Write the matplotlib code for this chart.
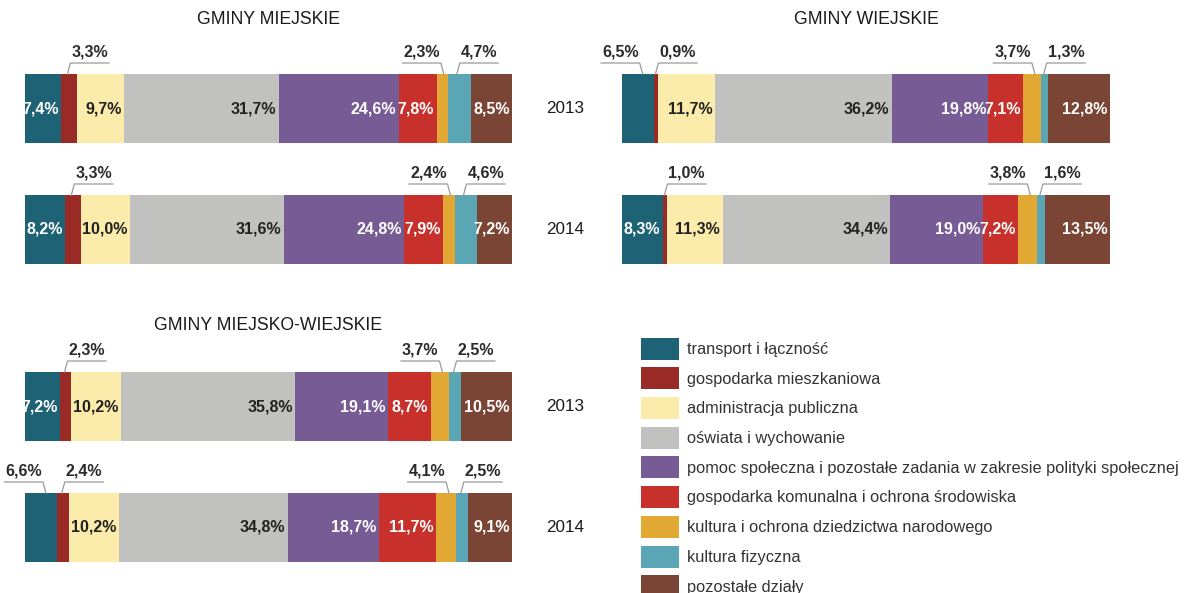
import matplotlib
matplotlib.use("Agg")
import matplotlib.pyplot as plt
import numpy as np

plt.rcParams['font.family'] = ['Liberation Sans', 'DejaVu Sans']

categories = [
    "transport i łączność",
    "gospodarka mieszkaniowa",
    "administracja publiczna",
    "oświata i wychowanie",
    "pomoc społeczna i pozostałe zadania w zakresie polityki społecznej",
    "gospodarka komunalna i ochrona środowiska",
    "kultura i ochrona dziedzictwa narodowego",
    "kultura fizyczna",
    "pozostałe działy",
]
colors = ["#1e6375", "#9a2a26", "#fcecab", "#c1c1c0", "#775b95",
          "#c8302c", "#e2a834", "#5ba6b4", "#7b4535"]
years = ["2013", "2014"]

titles = ["GMINY MIEJSKIE", "GMINY WIEJSKIE", "GMINY MIEJSKO-WIEJSKIE"]

miejskie_2013 = [7.4, 3.3, 9.7, 31.7, 24.6, 7.8, 2.3, 4.7, 8.5]
miejskie_2014 = [8.2, 3.3, 10.0, 31.6, 24.8, 7.9, 2.4, 4.6, 7.2]
wiejskie_2013 = [6.5, 0.9, 11.7, 36.2, 19.8, 7.1, 3.7, 1.3, 12.8]
wiejskie_2014 = [8.3, 1.0, 11.3, 34.4, 19.0, 7.2, 3.8, 1.6, 13.5]
mw_2013 = [7.2, 2.3, 10.2, 35.8, 19.1, 8.7, 3.7, 2.5, 10.5]
mw_2014 = [6.6, 2.4, 10.2, 34.8, 18.7, 11.7, 4.1, 2.5, 9.1]

panel_data = [
    [miejskie_2013, miejskie_2014],
    [wiejskie_2013, wiejskie_2014],
    [mw_2013, mw_2014],
]

# segments labelled outside with a leader line: index -> side (-1 left, +1 right)
outside = [
    [{1: 1, 6: -1, 7: 1}, {1: 1, 6: -1, 7: 1}],
    [{0: -1, 1: 1, 6: -1, 7: 1}, {1: 1, 6: -1, 7: 1}],
    [{1: 1, 6: -1, 7: 1}, {0: -1, 1: 1, 6: -1, 7: 1}],
]
show_years = [True, False, True]

W, H = 1187, 593
fig = plt.figure(figsize=(W / 100, H / 100), dpi=100)

SP = 121.0  # px between bar centres
# (left px, width px, top px, bottom px, centre of first bar px, title px)
layout = [
    (25, 487, 0, 295, 108.5, 20),
    (622, 488, 0, 295, 108.5, 20),
    (25, 487, 297, 593, 406.5, 325),
]
light_idx = {2, 3}

def fmt(v):
    return f"{v:.1f}".replace(".", ",") + "%"

handles = None
for p, (lx, wx, tp, bp, c0, ty) in enumerate(layout):
    ax = fig.add_axes([lx / W, 1 - bp / H, wx / W, (bp - tp) / H])
    ax.set_xlim(0, 100)
    ax.set_ylim((bp - c0) / SP, (tp - c0) / SP)
    ax.axis("off")
    ypos = np.arange(len(years))
    data = np.array(panel_data[p])
    left = np.zeros(len(years))
    hs = []
    for k in range(len(categories)):
        b = ax.barh(ypos, data[:, k], left=left, height=0.57, color=colors[k],
                    label=categories[k], linewidth=0)
        hs.append(b)
        for j in range(len(years)):
            v = data[j, k]
            x0 = left[j]
            if k in outside[p][j]:
                s = outside[p][j][k]
                bx = x0 + v * (0.65 if s < 0 else 0.4)
                yb = ypos[j] - 0.285
                yu = ypos[j] - 0.376
                yt = ypos[j] - 0.467
                jx = bx + s * 0.6
                ex = jx + s * 7.9
                ax.plot([bx, jx, ex], [yb, yu, yu], color="#9a9a9a", lw=0.9,
                        clip_on=False, solid_joinstyle="miter")
                ax.text((jx + ex) / 2, yt, fmt(v), ha="center", va="center",
                        fontsize=11.5, fontweight="bold", color="#2b2b2b")
            else:
                ax.text(x0 + v - 0.5, ypos[j], fmt(v), ha="right", va="center",
                        fontsize=11.5, fontweight="bold",
                        color="#222222" if k in light_idx else "white")
        left = left + data[:, k]
    if handles is None:
        handles = hs
    ax.text(50, (ty - c0) / SP, titles[p], ha="center", va="center",
            fontsize=12.7, color="#1a1a1a")
    if show_years[p]:
        for j, yl in enumerate(years):
            ax.text(110.9, ypos[j], yl, ha="center", va="center",
                    fontsize=12.3, color="#1a1a1a", clip_on=False)

leg = fig.legend(handles=handles, labels=categories, loc="upper left",
                 bbox_to_anchor=(641 / W, 1 - 337.5 / H), frameon=False,
                 fontsize=11.8, handlelength=2.32, handleheight=1.69,
                 labelspacing=0.47, handletextpad=0.49, borderpad=0,
                 borderaxespad=0)
for t in leg.get_texts():
    t.set_color("#333333")

fig.savefig("out.png", dpi=100)
